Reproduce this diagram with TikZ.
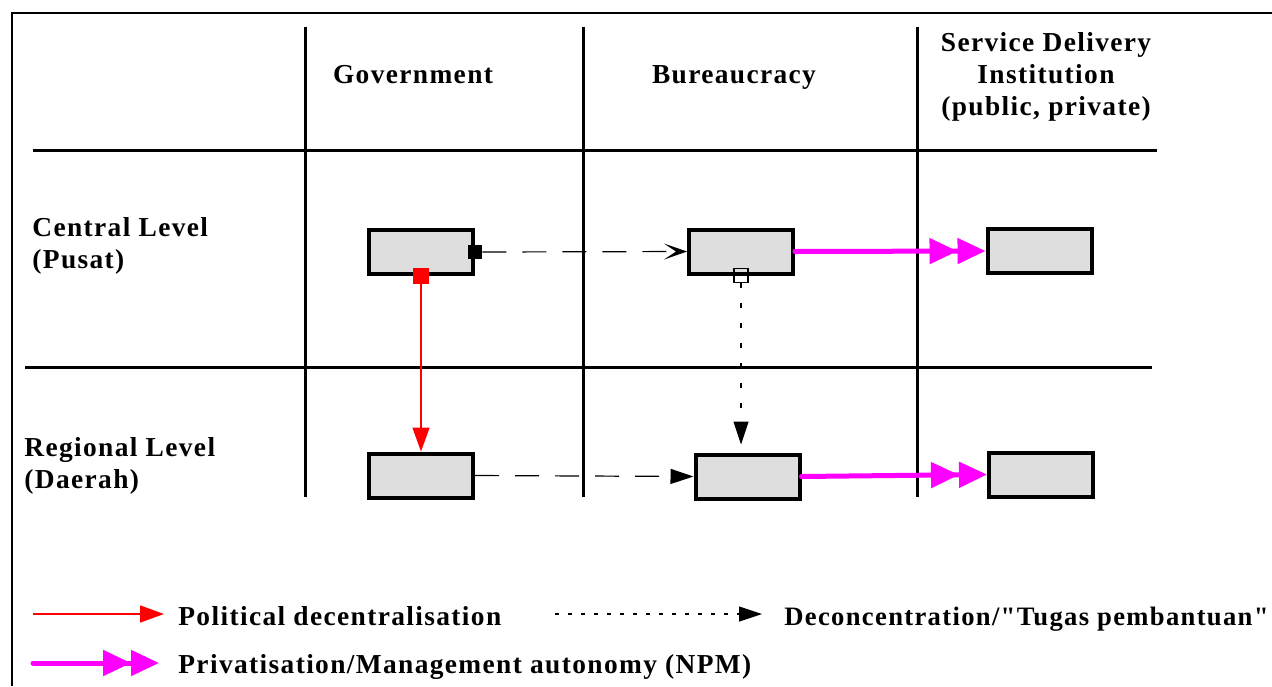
\documentclass[tikz,border=0pt]{standalone}
\usepackage{fontspec}
\setmainfont{Liberation Serif}[LetterSpace=5, Ligatures=TeXOff]
\usetikzlibrary{arrows.meta}
\definecolor{boxgray}{HTML}{DEDEDE}
\definecolor{npm}{HTML}{FF00FF}
\begin{document}
\begin{tikzpicture}[x=0.5pt,y=-0.5pt,
  gridline/.style={line width=1.5pt},
  frameline/.style={line width=1pt},
  unit/.style={draw, line width=2pt, fill=boxgray, minimum width=52pt,
    minimum height=22pt, inner sep=0pt},
  lbl/.style={font=\fontsize{13.7}{16}\selectfont\bfseries, inner sep=0pt},
  blacksq/.style={fill=black, minimum size=7pt, inner sep=0pt},
  redsq/.style={fill=red, minimum size=8pt, inner sep=0pt},
  opensq/.style={draw, line width=0.6pt, minimum size=7pt, inner sep=0pt},
  polarrow/.style={red, line width=0.75pt, -{Triangle[length=12pt,width=8.5pt]}},
  npmarrow/.style={npm, line width=2.5pt, line cap=round,
    -{Triangle[length=14pt,width=12.5pt,sep=0pt]Triangle[length=14pt,width=12.5pt]}},
  dashline/.style={line width=0.6pt, dash pattern=on 12pt off 8pt},
  dotline/.style={line width=0.6pt, dash pattern=on 2.5pt off 7.5pt},
  dotlegend/.style={line width=0.6pt, dash pattern=on 2pt off 4.5pt},
  blacktip/.style={-{Triangle[length=11.5pt,width=7.5pt]}},
  opentip/.style={-{Stealth[length=11.5pt,width=8pt,inset=6pt]}}
]
\useasboundingbox (0,0) rectangle (1272,686);

% outer frame
\coordinate (fTL) at (12,13);
\coordinate (fTR) at (1272,13);
\coordinate (fBL) at (12,686);
\draw[frameline] (fBL) -- (fTL) -- (fTR);

% table grid
\draw[gridline] (305,27) -- (305,497);
\draw[gridline] (583,27) -- (583,497);
\draw[gridline] (917,27) -- (917,497);
\draw[gridline] (33,150) -- (1157,150);
\draw[gridline] (25,367) -- (1152,367);

% column headers
\node[lbl, anchor=base] (hgov) at (413,83) {Government};
\node[lbl, anchor=base] (hbur) at (734,83) {Bureaucracy};
\node[lbl, anchor=north, align=center] (hsdi) at (1046,32)
  {Service Delivery\\Institution\\(public, private)};

% row headers
\node[lbl, anchor=north west, align=left] (rcen) at (32,217) {Central Level\\(Pusat)};
\node[lbl, anchor=north west, align=left] (rreg) at (24,437) {Regional Level\\(Daerah)};

% actors
\node[unit] (gc) at (421,252) {};
\node[unit] (bc) at (741,251.5) {};
\node[unit] (sc) at (1039.5,251) {};
\node[unit] (gr) at (421,475.5) {};
\node[unit] (br) at (747.5,476.5) {};
\node[unit] (sr) at (1041,474.5) {};

% connector ports
\node[blacksq] (pgc) at (gc.east) {};
\node[redsq] (pgr) at (gc.south) {};
\node[opensq] (pbc) at (bc.south) {};
\coordinate (pbr) at (pbc.south |- br.north);

% relations
\draw[dashline, opentip] (pgc.east) -- (bc.west);
\draw[polarrow] (pgr.south) -- (gr.north);
\draw[dotline, blacktip, shorten >=4pt] (pbc.south) -- (pbr);
\draw[dashline, blacktip] (gr.east) -- (br.west);
\draw[npmarrow] (bc.east) -- (sc.west);
\draw[npmarrow] (br.east) -- (sr.west);

% legend
\coordinate (k1a) at (33,614);
\coordinate (k1b) at (164,614);
\draw[polarrow] (k1a) -- (k1b);
\node[lbl, anchor=base west] (k1t) at (178,625) {Political decentralisation};

\coordinate (k2a) at (555,614);
\coordinate (k2b) at (762,614);
\draw[dotlegend, blacktip] (k2a) -- (k2b);
\node[lbl, font=\fontsize{13.3}{16}\selectfont\bfseries, anchor=base west] (k2t) at (784,625)
  {Deconcentration/"Tugas pembantuan"};

\coordinate (k3a) at (33,663);
\coordinate (k3b) at (159,663);
\draw[npmarrow] (k3a) -- (k3b);
\node[lbl, anchor=base west] (k3t) at (178,673) {Privatisation/Management autonomy (NPM)};
\end{tikzpicture}
\end{document}
